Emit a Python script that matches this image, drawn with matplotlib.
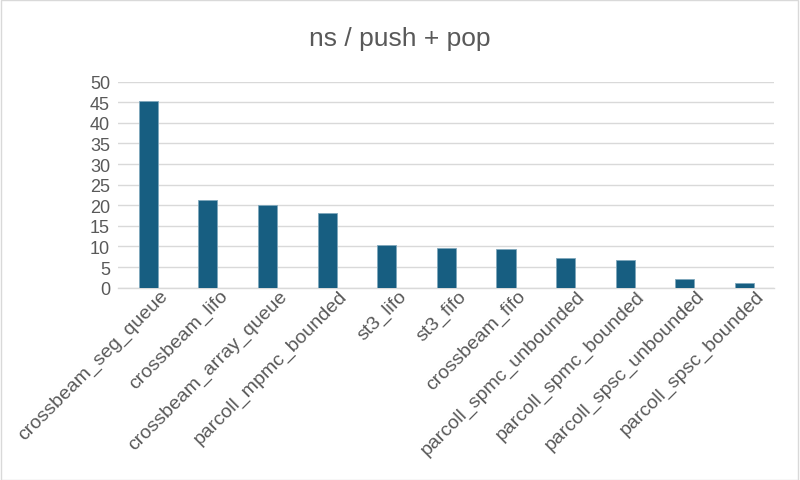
import matplotlib
matplotlib.use('Agg')
from matplotlib import pyplot as plt
from matplotlib.patches import Rectangle
from matplotlib.transforms import ScaledTranslation

names = ['crossbeam_seg_queue', 'crossbeam_lifo', 'crossbeam_array_queue',
         'parcoll_mpmc_bounded', 'st3_lifo', 'st3_fifo', 'crossbeam_fifo',
         'parcoll_spmc_unbounded', 'parcoll_spmc_bounded',
         'parcoll_spsc_unbounded', 'parcoll_spsc_bounded']
ns_per_op = [45.2, 21.3, 20.0, 18.0, 10.4, 9.6, 9.4, 7.2, 6.8, 2.2, 1.2]
yticks = [0, 5, 10, 15, 20, 25, 30, 35, 40, 45, 50]

plt.rcParams['font.family'] = ['Liberation Sans', 'DejaVu Sans']
text_col = '#595959'

fig = plt.figure(figsize=(8, 4.81), dpi=100)
ax = fig.add_axes([0.148, 0.400, 0.820, 0.428])

x = list(range(len(names)))
ax.bar(x, ns_per_op, width=0.32, color='#175E81', edgecolor='#7FA7BC', linewidth=0.6, zorder=3)

ax.set_ylim(0, 50)
ax.set_xlim(-0.5, len(names) - 0.5)
ax.set_yticks(yticks)
ax.set_yticklabels([str(t) for t in yticks], fontsize=13, color=text_col)
ax.set_xticks(x)
ax.set_xticklabels([])
# category labels drawn by hand so they can sit a bit right of the tick, like excel does
shift = ScaledTranslation(0.17, -0.055, fig.dpi_scale_trans)
for xi, name in zip(x, names):
    ax.text(xi, 0, name, transform=ax.get_xaxis_transform() + shift,
            rotation=45, ha='right', va='center', rotation_mode='anchor',
            fontsize=14, color=text_col)
ax.tick_params(axis='y', length=0, pad=6)
ax.tick_params(axis='x', length=0)
ax.grid(axis='y', color='#D9D9D9', linewidth=1, zorder=0)
for s in ['top', 'right', 'left']:
    ax.spines[s].set_visible(False)
ax.spines['bottom'].set_color('#D9D9D9')
ax.spines['bottom'].set_linewidth(1)

fig.text(0.5, 0.918, 'ns / push + pop', ha='center', va='center', fontsize=19, color=text_col)

# outer border
fig.patches.append(Rectangle((0.001, 0.001), 0.997, 0.997, transform=fig.transFigure,
                             fill=False, edgecolor='#D9D9D9', linewidth=1))

fig.savefig('out.png', dpi=100)
